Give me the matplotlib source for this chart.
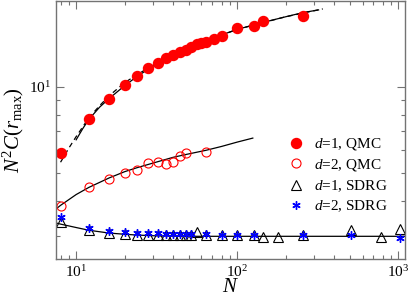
import matplotlib as mpl
mpl.use('agg')
import numpy as np
import matplotlib.pyplot as plt
from matplotlib.ticker import NullFormatter

plt.rcParams['font.family'] = ['Liberation Serif', 'DejaVu Serif']
plt.rcParams['mathtext.fontset'] = 'custom'
plt.rcParams['mathtext.rm'] = 'Liberation Serif'
plt.rcParams['mathtext.it'] = 'Liberation Serif:italic'
plt.rcParams['mathtext.bf'] = 'Liberation Serif:bold'

# d=1, QMC
n_d1_qmc = [8, 12, 16, 20, 24, 28, 32, 36, 40, 44, 48, 52, 56, 60, 64, 72, 80, 100, 128, 144, 256]
c_d1_qmc = [5.86, 7.73, 9.08, 10.16, 10.93, 11.63, 12.13, 12.6, 12.95, 13.25, 13.5, 13.8, 14.1, 14.2,
            14.4, 14.7, 15.1, 16.1, 16.4, 17.0, 17.76]
# d=2, QMC
n_d2_qmc = [8, 12, 16, 20, 24, 28, 32, 36, 40, 44, 48, 64]
c_d2_qmc = [3.84, 4.48, 4.75, 5.01, 5.13, 5.40, 5.47, 5.37, 5.47, 5.75, 5.89, 5.93]
# d=1, SDRG
n_d1_sdrg = [8, 12, 16, 20, 24, 28, 32, 36, 40, 44, 48, 52, 56, 64, 80, 100, 128, 144, 180, 256, 512, 784, 1024]
c_d1_sdrg = [3.37, 3.15, 3.09, 3.05, 3.04, 3.04, 3.04, 3.04, 3.04, 3.03, 3.03, 3.03, 3.11, 3.04, 3.02,
             3.04, 3.04, 2.99, 2.99, 3.04, 3.16, 2.99, 3.19]
# d=2, SDRG
n_d2_sdrg = [8, 12, 16, 20, 24, 28, 32, 36, 40, 44, 48, 52, 64, 80, 100, 128, 256, 512, 1024]
c_d2_sdrg = [3.50, 3.21, 3.14, 3.11, 3.08, 3.07, 3.07, 3.06, 3.06, 3.06, 3.05, 3.05, 3.05, 3.04, 3.04,
             3.04, 3.04, 3.03, 2.96]

# fit curves
n_fit1 = [10, 11, 12, 14, 16, 20, 24, 32, 40, 50, 64, 80, 100, 150, 200, 256, 320]
c_fit1 = [6.53, 7.15, 7.7, 8.5, 9.1, 10.1, 10.9, 12.1, 13.0, 13.8, 14.5, 15.2, 15.9, 16.9, 17.6, 18.2, 18.6]
n_fit1b = [8, 9, 10, 12, 14, 16, 20, 24, 28, 32, 40, 64, 100, 200, 340]
c_fit1b = [5.45, 6.1, 6.7, 7.8, 8.6, 9.3, 10.35, 11.05, 11.65, 12.15, 13.0, 14.5, 15.9, 17.6, 18.75]
n_fit2 = [7.5, 8, 10, 12, 16, 20, 24, 32, 40, 48, 64, 80, 100, 125]
c_fit2 = [3.74, 3.85, 4.2, 4.45, 4.8, 5.05, 5.22, 5.47, 5.67, 5.8, 6.0, 6.19, 6.41, 6.62]
n_fit3 = [7.5, 8, 10, 12, 16, 20, 24, 32, 48, 64, 100, 1100]
c_fit3 = [3.34, 3.31, 3.22, 3.15, 3.08, 3.05, 3.03, 3.01, 3.0, 3.0, 3.0, 3.0]

fig = plt.figure(figsize=(4.09, 2.99), dpi=100)
ax = fig.add_axes([0.137, 0.134, 0.853, 0.863])

ax.plot(n_fit1, c_fit1, color='black', linewidth=0.9)
ax.plot(n_fit1b, c_fit1b, color='black', linewidth=0.9, linestyle=(0, (4, 3)))
ax.plot(n_fit2, c_fit2, color='black', linewidth=0.9)
ax.plot(n_fit3, c_fit3, color='black', linewidth=0.9)

ax.plot(n_d1_qmc, c_d1_qmc, 'o', color='red', markersize=7.2, label=r'$d$=$\mathit{1}$, QMC')
ax.plot(n_d2_qmc, c_d2_qmc, 'o', mfc='none', mec='red', markersize=6.5, mew=0.8,
        label=r'$d$=$\mathit{2}$, QMC')
ax.plot(n_d1_sdrg, c_d1_sdrg, '^', mfc='none', mec='black', markersize=6.5, mew=0.8,
        label=r'$d$=$\mathit{1}$, SDRG')
ax.plot(n_d2_sdrg, c_d2_sdrg, marker=(6, 2, 0), linestyle='none', color='blue', markersize=6, mew=1.0,
        label=r'$d$=$\mathit{2}$, SDRG')

ax.set_xscale('log')
ax.set_yscale('log')
ax.set_xlim(7.5, 1100)
ax.set_ylim(2.5, 20)
ax.yaxis.set_minor_formatter(NullFormatter())
ax.xaxis.set_minor_formatter(NullFormatter())

for s in ax.spines.values():
    s.set_color('0.45')
    s.set_linewidth(1.0)
ax.tick_params(which='both', direction='in', top=True, right=True, color='0.45', labelsize=11)
ax.tick_params(which='major', length=5.5, width=0.8)
ax.tick_params(which='minor', length=3, width=0.8)

ax.set_xlabel(r'$N$', fontsize=15, labelpad=-1)
ax.set_ylabel(r'$N^2C(r_{\mathrm{max}})$', fontsize=15, labelpad=2)

ax.legend(loc='upper left', bbox_to_anchor=(0.667, 0.475), frameon=False, fontsize=11, numpoints=1,
          handlelength=1.0, handletextpad=0.65, labelspacing=0.32, borderpad=0, borderaxespad=0)

plt.savefig("out.png", dpi=100)
